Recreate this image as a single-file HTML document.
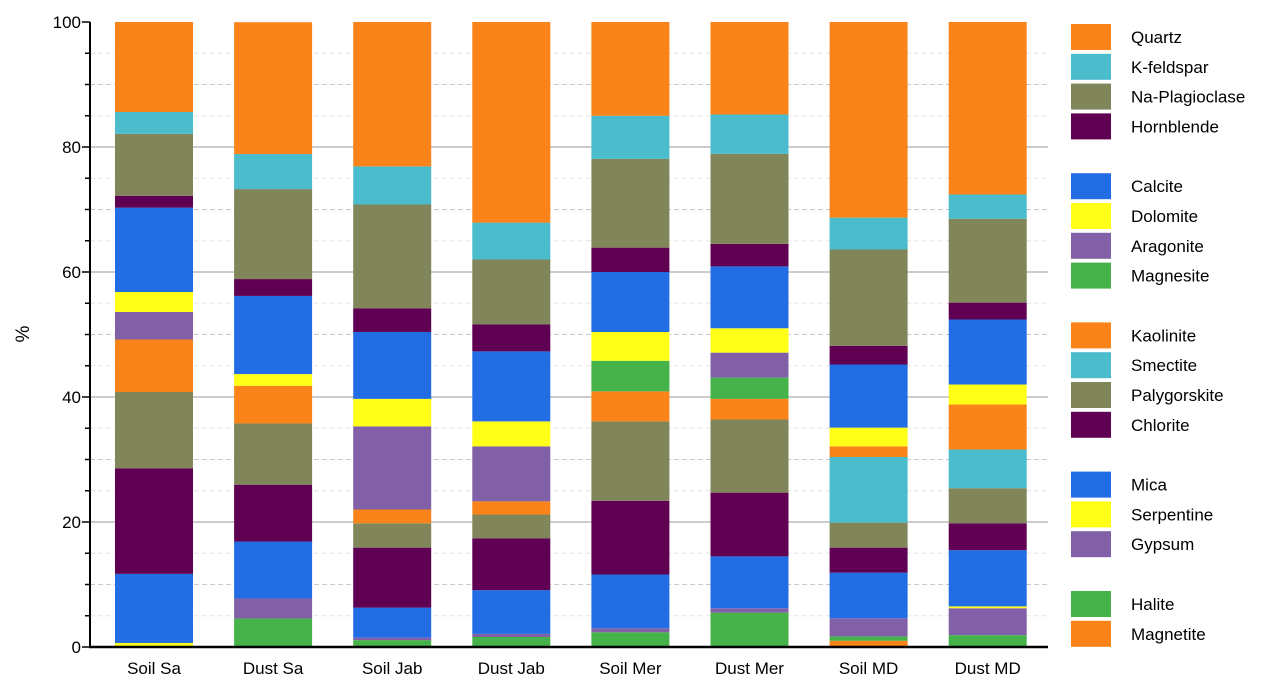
<!DOCTYPE html>
<html><head><meta charset="utf-8"><style>
body{margin:0;background:#fff;font-family:"Liberation Sans",sans-serif;}
svg text{font-family:"Liberation Sans",sans-serif;}
</style></head><body>
<svg id="chart" width="1273" height="689" xmlns="http://www.w3.org/2000/svg"></svg>
<script>
const categories=["Soil Sa","Dust Sa","Soil Jab","Dust Jab","Soil Mer","Dust Mer","Soil MD","Dust MD"];
const minerals=["Magnetite","Halite","Gypsum","Serpentine","Mica","Chlorite","Palygorskite","Smectite","Kaolinite","Magnesite","Aragonite","Dolomite","Calcite","Hornblende","Na-Plagioclase","K-feldspar","Quartz"];
const magnetite=[0,0,0,0,0,0,1.0,0];
const halite=[0,4.57,1.1,1.6,2.35,5.5,0.7,1.9];
const gypsum=[0,3.2,0.4,0.5,0.65,0.7,2.9,4.3];
const serpentine=[0.65,0,0,0,0,0,0,0.3];
const mica=[11.05,9.1,4.8,7.0,8.6,8.3,7.3,9.0];
const chlorite=[16.9,9.1,9.6,8.3,11.8,10.2,4.0,4.3];
const palygorskite=[12.2,9.8,3.9,3.8,12.7,11.7,4.0,5.6];
const smectite=[0,0,0,0,0,0,10.5,6.2];
const kaolinite=[8.4,6.0,2.2,2.1,4.8,3.3,1.7,7.2];
const magnesite=[0,0,0,0,4.9,3.4,0,0];
const aragonite=[4.4,0,13.3,8.8,0,4.0,0,0];
const dolomite=[3.2,1.9,4.4,4.0,4.6,3.9,3.0,3.2];
const calcite=[13.5,12.5,10.7,11.2,9.6,9.9,10.1,10.4];
const hornblende=[1.9,2.7,3.8,4.3,3.9,3.6,3.0,2.7];
const naPlagioclase=[9.9,14.4,16.6,10.4,14.2,14.4,15.4,13.4];
const kFeldspar=[3.5,5.6,6.1,5.9,6.9,6.3,5.1,3.9];
const quartz=[14.4,21.1,23.1,32.1,15.0,14.8,31.3,27.6];
const yTicks=[0,20,40,60,80,100];

const series=[magnetite,halite,gypsum,serpentine,mica,chlorite,palygorskite,smectite,kaolinite,magnesite,aragonite,dolomite,calcite,hornblende,naPlagioclase,kFeldspar,quartz];
const O="#fa8419",C="#4bbccc",G="#808659",H="#600052",B="#226ce4",Y="#ffff18",P="#8160a8",N="#46b24a";
const colors=[O,N,P,Y,B,H,G,C,O,N,P,Y,B,H,G,C,O];
const NS="http://www.w3.org/2000/svg";
const svg=document.getElementById('chart');
const X0=90,X1=1048,Y0=647,Y1=22;
const y=v=>Y0-(v/100)*(Y0-Y1);
const step=119.1;
const xc=i=>154+step*i;
const BW=78;
function mk(t,a){const e=document.createElementNS(NS,t);for(const k in a)e.setAttribute(k,a[k]);svg.appendChild(e);return e;}
for(let v=5;v<100;v+=5){
  const major=v%20===0;
  const g=mk('line',{x1:X0,x2:X1,y1:y(v),y2:y(v),stroke:major?'#999':(v%10===0?'#c8c8c8':'#e6e6e6'),'stroke-width':1,'stroke-dasharray':major?'':'5,3'});
  
  
}
categories.forEach((c,i)=>{
  let cum=0;
  series.forEach((s,j)=>{
    const v=s[i];
    if(v>0){
      const r=mk('rect',{x:xc(i)-BW/2,y:y(cum+v),width:BW,height:y(cum)-y(cum+v),fill:colors[j]});
      
      
    }
    cum+=v;
  });
  const t=mk('text',{x:xc(i),y:674,'text-anchor':'middle','font-size':17,fill:'#000'});
  t.textContent=c;
  
  
});
const ya=mk('line',{x1:X0,x2:X0,y1:Y1,y2:Y0+1,stroke:'#000','stroke-width':2});


const xa=mk('line',{x1:X0-1,x2:X1,y1:Y0,y2:Y0,stroke:'#000','stroke-width':2.5});


for(let v=0;v<=100;v+=5){
  const tk=mk('line',{x1:X0-(v%20===0?8:5),x2:X0,y1:y(v),y2:y(v),stroke:'#000','stroke-width':1.5});
  
  
}
yTicks.forEach(v=>{
  const t=mk('text',{x:81,y:y(v)+6,'text-anchor':'end','font-size':17});
  t.textContent=v;
  
  
});
const yt=mk('text',{x:29,y:334,'text-anchor':'middle','font-size':19,transform:'rotate(-90 29 334)'});
yt.textContent='%';


const legendOrder=[16,15,14,13,null,12,11,10,9,null,8,7,6,5,null,4,3,2,null,1,0];
let ly=37;
legendOrder.forEach(j=>{
  if(j===null){ly+=30;return;}
  const r=mk('rect',{x:1071,y:ly-13,width:40,height:26,fill:colors[j]});
  
  
  const t=mk('text',{x:1131,y:ly+6,'font-size':17});
  t.textContent=minerals[j];
  
  
  ly+=29.8;
});
</script>
</body></html>
